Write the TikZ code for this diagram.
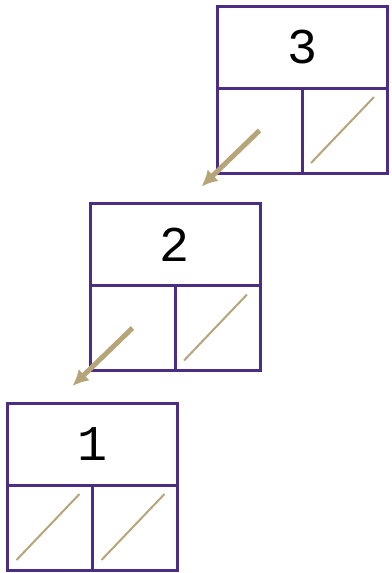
\documentclass[tikz,border=0pt]{standalone}
\usepackage{fontspec}
\setmonofont{Liberation Mono}
\usetikzlibrary{arrows.meta,positioning}
\definecolor{uwpurple}{HTML}{4B2E83}
\definecolor{uwgold}{HTML}{B7A57A}

\begin{document}
\begin{tikzpicture}[
    x=1pt, y=-1pt,
    cell/.style={draw=uwpurple, line width=3pt, outer sep=0pt, inner sep=0pt},
    keycell/.style={cell, minimum width=170pt, minimum height=82pt,
                    font=\ttfamily\fontsize{50}{50}\selectfont},
    lcell/.style={cell, minimum width=85pt, minimum height=85pt, anchor=north west},
    rcell/.style={cell, minimum width=85pt, minimum height=85pt, anchor=north east},
    ptr/.style={-{Latex[length=16pt,width=16pt]}, line width=5pt, draw=uwgold},
    nullp/.style={line width=2pt, draw=uwgold},
  ]
  \useasboundingbox (0,0) rectangle (391,573);

  % node 3
  \node[keycell] (k3) at (302,47) {3};
  \node[lcell] (l3) at (k3.south west) {};
  \node[rcell] (r3) at (k3.south east) {};

  % node 2
  \node[keycell] (k2) at (175,244.5) {2};
  \node[lcell] (l2) at (k2.south west) {};
  \node[rcell] (r2) at (k2.south east) {};

  % node 1
  \node[keycell] (k1) at (92.5,444) {1};
  \node[lcell] (l1) at (k1.south west) {};
  \node[rcell] (r1) at (k1.south east) {};

  % left pointers
  \coordinate (t3) at ([shift={(-58,56)}]l3.center);
  \coordinate (t2) at ([shift={(-60,58)}]l2.center);
  \draw[ptr] (l3.center) -- (t3);
  \draw[ptr] (l2.center) -- (t2);

  % null pointers
  \draw[nullp] ([shift={(9,-10)}]r3.south west) -- ([shift={(-13,9)}]r3.north east);
  \draw[nullp] ([shift={(9,-10)}]r2.south west) -- ([shift={(-13,9)}]r2.north east);
  \draw[nullp] ([shift={(9,-10)}]l1.south west) -- ([shift={(-13,9)}]l1.north east);
  \draw[nullp] ([shift={(9,-10)}]r1.south west) -- ([shift={(-13,9)}]r1.north east);

\end{tikzpicture}
\end{document}
